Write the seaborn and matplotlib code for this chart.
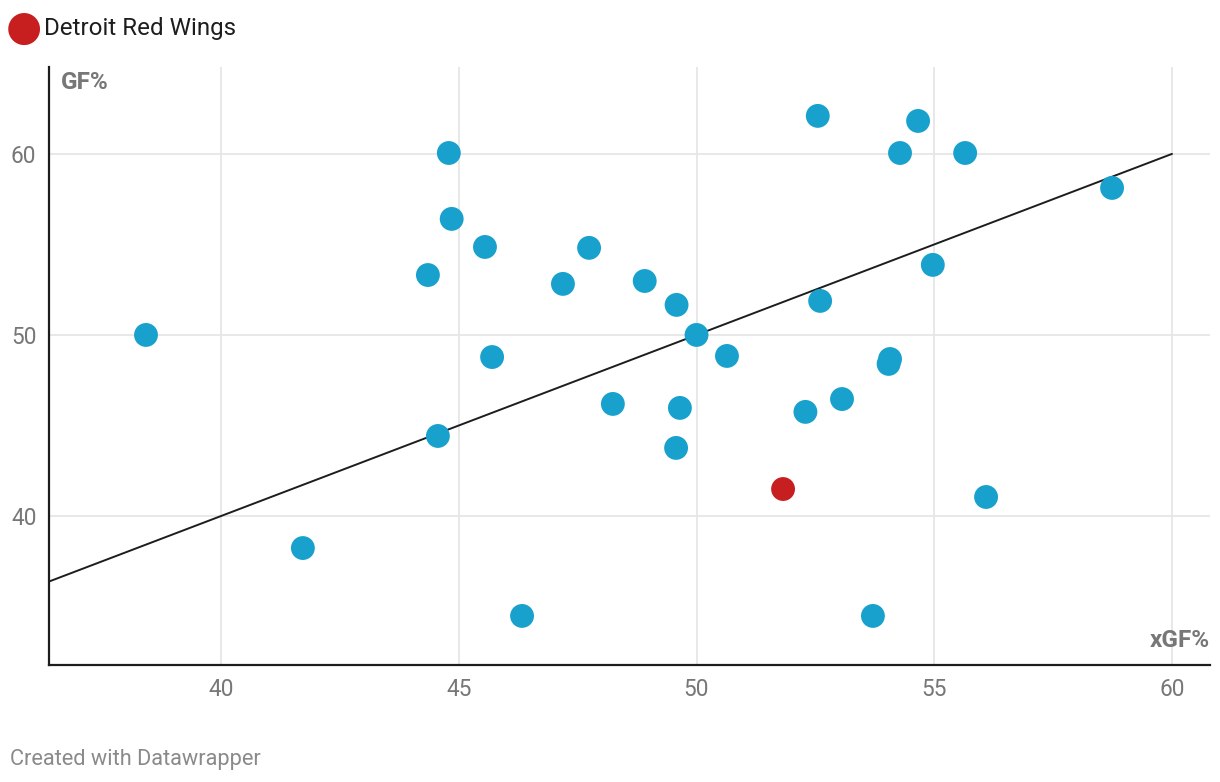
import pandas as pd
import numpy as np
import matplotlib.pyplot as plt
import seaborn as sns

sns.set_style("white")
plt.rcParams["font.family"] = ["Roboto", "DejaVu Sans"]

# xGF% and GF% per team (the red one is Detroit)
xgf = [38.42, 41.72, 44.79, 44.85, 44.35, 45.55, 44.56, 45.70, 46.33, 47.19,
       47.74, 48.24, 48.91, 49.58, 50.00, 49.65, 49.57, 50.64, 51.82, 52.55,
       52.60, 52.29, 53.06, 53.71, 54.07, 54.04, 54.28, 54.66, 54.97, 55.65,
       56.09, 58.74]
gf = [50.00, 38.23, 60.05, 56.41, 53.31, 54.86, 44.42, 48.78, 34.48, 52.82,
      54.81, 46.19, 52.98, 51.66, 50.00, 45.97, 43.76, 48.84, 41.49, 62.10,
      51.88, 45.75, 46.46, 34.48, 48.67, 48.40, 60.05, 61.82, 53.87, 60.05,
      41.05, 58.12]
team = ["other"] * len(xgf)
team[18] = "Detroit Red Wings"

x_ticks = [40, 45, 50, 55, 60]
y_ticks = [40, 50, 60]

df = pd.DataFrame({"xGF%": xgf, "GF%": gf, "team": team})

fig = plt.figure(figsize=(12.2, 7.82), dpi=100)
ax = fig.add_axes([49 / 1220, 1 - 665 / 782, (1210 - 49) / 1220, (665 - 67) / 782])

ax.set_xlim(36.38, 60.8)
ax.set_ylim(31.77, 64.8)

for v in x_ticks:
    ax.axvline(v, color="#e6e6e6", lw=1.3, zorder=0)
for v in y_ticks:
    ax.axhline(v, color="#e6e6e6", lw=1.3, zorder=0)

# y = x reference line
ax.plot([36.38, 60], [36.38, 60], color="#1d1d1d", lw=1.4, zorder=1)

sns.scatterplot(data=df, x="xGF%", y="GF%", hue="team",
                palette={"other": "#18a1cd", "Detroit Red Wings": "#c71e1f"},
                s=295, linewidth=0, legend=False, ax=ax, zorder=3)

ax.set_xticks(x_ticks)
ax.set_yticks(y_ticks)
ax.tick_params(axis="both", length=0, labelsize=16.3, labelcolor="#777777", pad=9)
ax.set_xlabel("")
ax.set_ylabel("")

for side in ["top", "right"]:
    ax.spines[side].set_visible(False)
for side in ["left", "bottom"]:
    ax.spines[side].set_color("#1d1d1d")
    ax.spines[side].set_linewidth(1.6)

ax.text(12 / 1161, 1 - 4 / 598, "GF%", transform=ax.transAxes, ha="left", va="top",
        fontsize=17.5, fontweight="bold", color="#777777")
ax.text(1.0, 0.022, "xGF%", transform=ax.transAxes, ha="right", va="bottom",
        fontsize=17.5, fontweight="bold", color="#777777")

# legend
fig.text(24 / 1220, 1 - 28 / 782, "\u25cf", fontsize=30, color="#c71e1f",
         ha="center", va="center", family="DejaVu Sans")
fig.text(44 / 1220, 1 - 28 / 782, "Detroit Red Wings", fontsize=17.4,
         color="#1d1d1d", ha="left", va="center")

fig.text(10 / 1220, 1 - 759 / 782, "Created with Datawrapper", fontsize=15.7,
         color="#8a8a8a", ha="left", va="center")

fig.savefig("out.png", dpi=100)
